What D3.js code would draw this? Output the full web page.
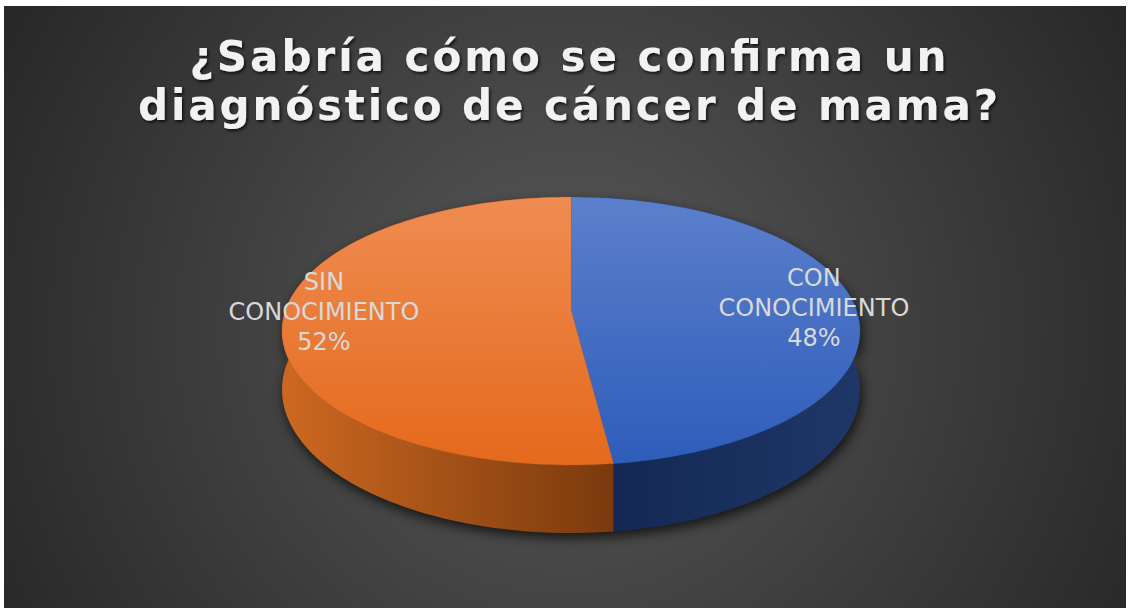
<!DOCTYPE html>
<html>
<head>
<meta charset="utf-8">
<script src="https://cdn.jsdelivr.net/npm/d3@7"></script>
<style>
  html, body { margin: 0; padding: 0; background: #fff; }
  svg { display: block; }
</style>
</head>
<body>
<svg width="1128" height="608"></svg>
<script>
// data
const categories = ['CON CONOCIMIENTO', 'SIN CONOCIMIENTO'];
const labelLines = [['CON', 'CONOCIMIENTO'], ['SIN', 'CONOCIMIENTO']];
const values = [48, 52];
const titleLines = ['¿Sabría cómo se confirma un', 'diagnóstico de cáncer de mama?'];

const width = 1128, height = 608;
const svg = d3.select('svg');
const defs = svg.append('defs');

// background
const bg = defs.append('radialGradient').attr('id', 'bg')
	.attr('gradientUnits', 'userSpaceOnUse')
	.attr('cx', 568).attr('cy', 330).attr('r', 690);
bg.append('stop').attr('offset', 0).attr('stop-color', '#595959');
bg.append('stop').attr('offset', 1).attr('stop-color', '#242424');

svg.append('rect')
	.attr('x', 4).attr('y', 6)
	.attr('width', 1122).attr('height', height - 6)
	.attr('fill', 'url(#bg)');

// title
const ts = defs.append('filter').attr('id', 'tshadow')
	.attr('x', '-10%').attr('y', '-30%').attr('width', '120%').attr('height', '160%');
ts.append('feDropShadow').attr('dx', 1.5).attr('dy', 2).attr('stdDeviation', 1.6)
	.attr('flood-color', '#000').attr('flood-opacity', 0.75);

const titleWidths = [757, 860];
svg.append('g').attr('filter', 'url(#tshadow)')
	.selectAll('text')
	.data(titleLines)
	.join('text')
	.attr('x', 568)
	.attr('y', (d, i) => 71 + i * 49)
	.attr('text-anchor', 'middle')
	.attr('textLength', (d, i) => titleWidths[i])
	.attr('lengthAdjust', 'spacing')
	.attr('font-family', '"DejaVu Sans", Verdana, sans-serif')
	.attr('font-weight', 'bold')
	.attr('font-size', 42)
	.attr('fill', '#f2f2f2')
	.text(d => d);

// pie in perspective
const cx = 571, cy0 = 310;
const A = 285.4, B = 130.7, k = 0.1567, H = 57.4;

function proj(theta, r, z) {
	let u = r * Math.sin(theta), v = -r * Math.cos(theta);
	let w = 1 - k * v;
	return [cx + A * u / w, cy0 + (B * v + H * z) / w];
}

const pie = d3.pie().sort(null).value(d => d)(values);
const topColors = [['#5c80cb', '#2d5cba'], ['#ef8c52', '#e4691b']];

topColors.forEach((c, i) => {
	let g = defs.append('linearGradient').attr('id', 'top' + i)
		.attr('gradientUnits', 'userSpaceOnUse')
		.attr('x1', 0).attr('x2', 0).attr('y1', 197).attr('y2', 468);
	g.append('stop').attr('offset', 0).attr('stop-color', c[0]);
	g.append('stop').attr('offset', 1).attr('stop-color', c[1]);
});

const divX = proj(pie[0].endAngle, 1, 0)[0];
const sideStops = [
	{ x1: divX, x2: 860, c1: '#132854', c2: '#1f3768' },
	{ x1: 284, x2: divX, c1: '#cc6821', c2: '#7a3a0d' }
];
sideStops.forEach((s, i) => {
	let g = defs.append('linearGradient').attr('id', 'side' + i)
		.attr('gradientUnits', 'userSpaceOnUse')
		.attr('x1', s.x1).attr('x2', s.x2).attr('y1', 0).attr('y2', 0);
	g.append('stop').attr('offset', 0).attr('stop-color', s.c1);
	g.append('stop').attr('offset', 1).attr('stop-color', s.c2);
});

function arcPts(a1, a2, z, n) {
	let pts = [];
	for (let j = 0; j <= n; j++) pts.push(proj(a1 + (a2 - a1) * j / n, 1, z));
	return pts;
}

function sidePath(p) {
	let top = arcPts(p.startAngle, p.endAngle, 0, 120);
	let bot = arcPts(p.startAngle, p.endAngle, 1, 120).reverse();
	return 'M' + top.concat(bot).join('L') + 'Z';
}

function topPath(p) {
	let pts = [proj(0, 0, 0)].concat(arcPts(p.startAngle, p.endAngle, 0, 120));
	return 'M' + pts.join('L') + 'Z';
}

// soft shadow
const sh = defs.append('filter').attr('id', 'pshadow')
	.attr('x', '-20%').attr('y', '-20%').attr('width', '140%').attr('height', '160%');
sh.append('feGaussianBlur').attr('stdDeviation', 6);

svg.append('g')
	.attr('filter', 'url(#pshadow)')
	.attr('transform', 'translate(2,5)')
	.attr('opacity', 0.7)
	.selectAll('path')
	.data(pie)
	.join('path')
	.attr('d', sidePath)
	.attr('fill', '#000');

// sides, then tops
svg.append('g')
	.selectAll('path')
	.data(pie)
	.join('path')
	.attr('d', sidePath)
	.attr('fill', (d, i) => 'url(#side' + i + ')');

svg.append('g')
	.selectAll('path')
	.data(pie)
	.join('path')
	.attr('d', topPath)
	.attr('fill', (d, i) => 'url(#top' + i + ')')
	.attr('stroke', (d, i) => topColors[i][1])
	.attr('stroke-width', 0.3);

// labels
const labels = svg.append('g')
	.attr('font-family', '"DejaVu Sans", Verdana, sans-serif')
	.attr('font-size', 24)
	.attr('fill', '#d9d9d9')
	.attr('text-anchor', 'middle');

pie.forEach((p, i) => {
	let mid = (p.startAngle + p.endAngle) / 2;
	let cxl = proj(mid, 0.86, 0)[0];
	let cyl = proj(mid, 0.25, 0)[1];
	let lines = labelLines[i].concat([values[i] + '%']);
	labels.append('text')
		.selectAll('tspan')
		.data(lines)
		.join('tspan')
		.attr('x', cxl)
		.attr('y', (d, j) => cyl + 8 + (j - 1) * 30)
		.text(d => d);
});
</script>
</body>
</html>
